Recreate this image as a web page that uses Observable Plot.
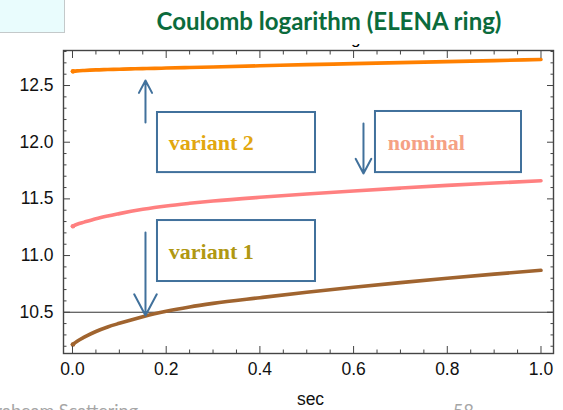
<!DOCTYPE html>
<html>
<head>
<meta charset="utf-8">
<script src="https://cdn.jsdelivr.net/npm/d3@7"></script>
<script src="https://cdn.jsdelivr.net/npm/@observablehq/plot@0.6"></script>
<style>
  html, body { margin: 0; padding: 0; background: #fff; }
  #wrap { position: relative; width: 563px; height: 410px; overflow: hidden; background: #fff; }
  #wrap > svg { position: absolute; left: 0; top: 0; }
  .cyan { position: absolute; left: -2px; top: -2px; width: 66px; height: 34px; background: #e9fcfd; border-right: 1px solid #c4c9ca; border-bottom: 1px solid #c4c9ca; }
  .title { position: absolute; left: 0; width: 658px; top: 7px; text-align: center; font-family: Lato, "Open Sans", sans-serif; font-weight: 700; font-size: 24px; line-height: 28px; color: #0b6b3c; white-space: nowrap; }
  .gclip { position: absolute; left: 351px; top: 44px; width: 12px; height: 5px; overflow: hidden; z-index: 2; }
  .gclip span { position: relative; top: -14px; font-family: "Liberation Sans", Arial, sans-serif; font-size: 17px; line-height: 17px; color: #000; }
  .foot { position: absolute; top: 402px; font-family: Lato, "Liberation Sans", Arial, sans-serif; font-size: 18px; line-height: 16px; color: #a6a6a6; white-space: nowrap; }
</style>
</head>
<body>
<div id="wrap">
  <div class="cyan"></div>
  <div class="title">Coulomb logarithm (ELENA ring)</div>
  <div class="gclip"><span>g</span></div>
  <div class="foot" style="right:425px;">Intrabeam Scattering</div>
  <div class="foot" style="left:453px;">58</div>
</div>
<script>
// ---- data ----
const seconds   = [0, 0.01, 0.025, 0.05, 0.075, 0.1, 0.125, 0.15, 0.175, 0.2, 0.25, 0.3, 0.4, 0.5, 0.6, 0.7, 0.8, 0.9, 1.0];
const variant2  = [12.625, 12.629, 12.633, 12.638, 12.641, 12.644, 12.647, 12.649, 12.651, 12.654, 12.659, 12.664, 12.674, 12.684, 12.693, 12.702, 12.711, 12.72, 12.73];
const nominal   = [11.258, 11.276, 11.295, 11.325, 11.349, 11.37, 11.39, 11.408, 11.424, 11.438, 11.461, 11.481, 11.514, 11.543, 11.57, 11.595, 11.619, 11.64, 11.66];
const variant1  = [10.215, 10.245, 10.28, 10.33, 10.37, 10.402, 10.432, 10.46, 10.486, 10.509, 10.547, 10.578, 10.628, 10.676, 10.72, 10.761, 10.8, 10.836, 10.87];
const seriesNames = ["variant 2", "nominal", "variant 1"];

const xMajorTicks = [0, 0.2, 0.4, 0.6, 0.8, 1.0];
const xMinorTicks = [0.05, 0.1, 0.15, 0.25, 0.3, 0.35, 0.45, 0.5, 0.55, 0.65, 0.7, 0.75, 0.85, 0.9, 0.95];
const yMajorTicks = [10.5, 11.0, 11.5, 12.0, 12.5];
const yMinorTicks = [10.2, 10.3, 10.4, 10.6, 10.7, 10.8, 10.9, 11.1, 11.2, 11.3, 11.4, 11.6, 11.7, 11.8, 11.9, 12.1, 12.2, 12.3, 12.4, 12.6, 12.7, 12.8];
const referenceLevel = [10.5];
const xLabel = "sec";

// annotations (data coordinates)
const boxLabels = ["variant 2", "variant 1", "nominal"];
const boxX1 = [0.1814, 0.1814, 0.6467];
const boxX2 = [0.5187, 0.5187, 0.9584];
const boxY1 = [11.732, 10.771, 11.732];
const boxY2 = [12.262, 11.309, 12.271];
const labelX = [0.2056, 0.2056, 0.673];
const labelY = [11.994, 11.032, 11.997];
const arrowX  = [0.1558, 0.6211, 0.1558];
const arrowY1 = [12.174, 12.165, 11.203];
const arrowY2 = [12.544, 11.724, 10.471];

// ---- build tables ----
const seriesValues = [variant2, nominal, variant1];
const lineColors = {"variant 2": "#ff8000", "nominal": "#ff8080", "variant 1": "#a0642f"};
const labelColors = {"variant 2": "#e2a70f", "variant 1": "#b09812", "nominal": "#f5a184"};
const rows = seriesNames.flatMap((name, i) => seconds.map((t, j) => ({series: name, t, v: seriesValues[i][j]})));
const starts = seriesNames.map((name, i) => ({series: name, t: seconds[0], v: seriesValues[i][0]}));
const boxes = boxLabels.map((label, i) => ({label, x1: boxX1[i], x2: boxX2[i], y1: boxY1[i], y2: boxY2[i], lx: labelX[i], ly: labelY[i]}));
const arrows = arrowX.map((x, i) => ({x, y1: arrowY1[i], y2: arrowY2[i]}));

const boxStroke = "#41719c";
const axisFont = "'Liberation Sans', Arial, sans-serif";

const chart = Plot.plot({
  width: 563,
  height: 410,
  marginLeft: 63,
  marginRight: 10,
  marginTop: 50,
  marginBottom: 57,
  style: {background: "transparent", fontFamily: axisFont, overflow: "visible"},
  x: {domain: [-0.0192, 1.0267], label: null},
  y: {domain: [10.136, 12.809], label: null},
  marks: [
    Plot.ruleY(referenceLevel, {stroke: "#333", strokeWidth: 1}),
    Plot.line(rows, {x: "t", y: "v", z: "series", stroke: d => lineColors[d.series], strokeWidth: 3.6, curve: "monotone-x", strokeLinecap: "round"}),
    Plot.dot(starts, {x: "t", y: "v", r: 2.3, fill: d => lineColors[d.series], dx: 0.5}),
    Plot.rect(boxes, {x1: "x1", x2: "x2", y1: "y1", y2: "y2", fill: "none", stroke: boxStroke, strokeWidth: 2}),
    Plot.text(boxes, {x: "lx", y: "ly", text: "label", fill: d => labelColors[d.label], textAnchor: "start", fontFamily: "'Liberation Serif', 'Times New Roman', serif", fontWeight: "bold", fontSize: 22}),
    Plot.arrow(arrows, {x: "x", y1: "y1", y2: "y2", stroke: boxStroke, strokeWidth: 2, headLength: 18, headAngle: 56}),
    // axes (inward ticks, mirrored)
    Plot.axisX({anchor: "bottom", ticks: xMajorTicks, tickSize: -7, tickPadding: 16, tickFormat: d3.format(".1f"), fontSize: 17.5, fill: "#111", stroke: "#444", label: null}),
    Plot.axisX({anchor: "bottom", ticks: xMinorTicks, tickSize: -3.5, tickFormat: () => "", stroke: "#444", label: null}),
    Plot.axisX({anchor: "top", ticks: xMajorTicks, tickSize: -7, tickFormat: () => "", stroke: "#444", label: null}),
    Plot.axisX({anchor: "top", ticks: xMinorTicks, tickSize: -3.5, tickFormat: () => "", stroke: "#444", label: null}),
    Plot.axisY({anchor: "left", ticks: yMajorTicks, tickSize: -7, tickPadding: 17, tickFormat: d3.format(".1f"), fontSize: 17.5, fill: "#111", stroke: "#444", label: null}),
    Plot.axisY({anchor: "left", ticks: yMinorTicks, tickSize: -3.5, tickFormat: () => "", stroke: "#444", label: null}),
    Plot.axisY({anchor: "right", ticks: yMajorTicks, tickSize: -7, tickFormat: () => "", stroke: "#444", label: null}),
    Plot.axisY({anchor: "right", ticks: yMinorTicks, tickSize: -3.5, tickFormat: () => "", stroke: "#444", label: null}),
    Plot.frame({stroke: "#444", strokeWidth: 1.4}),
    Plot.text([xLabel], {frameAnchor: "bottom", text: d => d, dy: 51, fontSize: 17.5, fill: "#111", lineAnchor: "bottom", dx: 2})
  ]
});
document.getElementById("wrap").appendChild(chart);
</script>
</body>
</html>
